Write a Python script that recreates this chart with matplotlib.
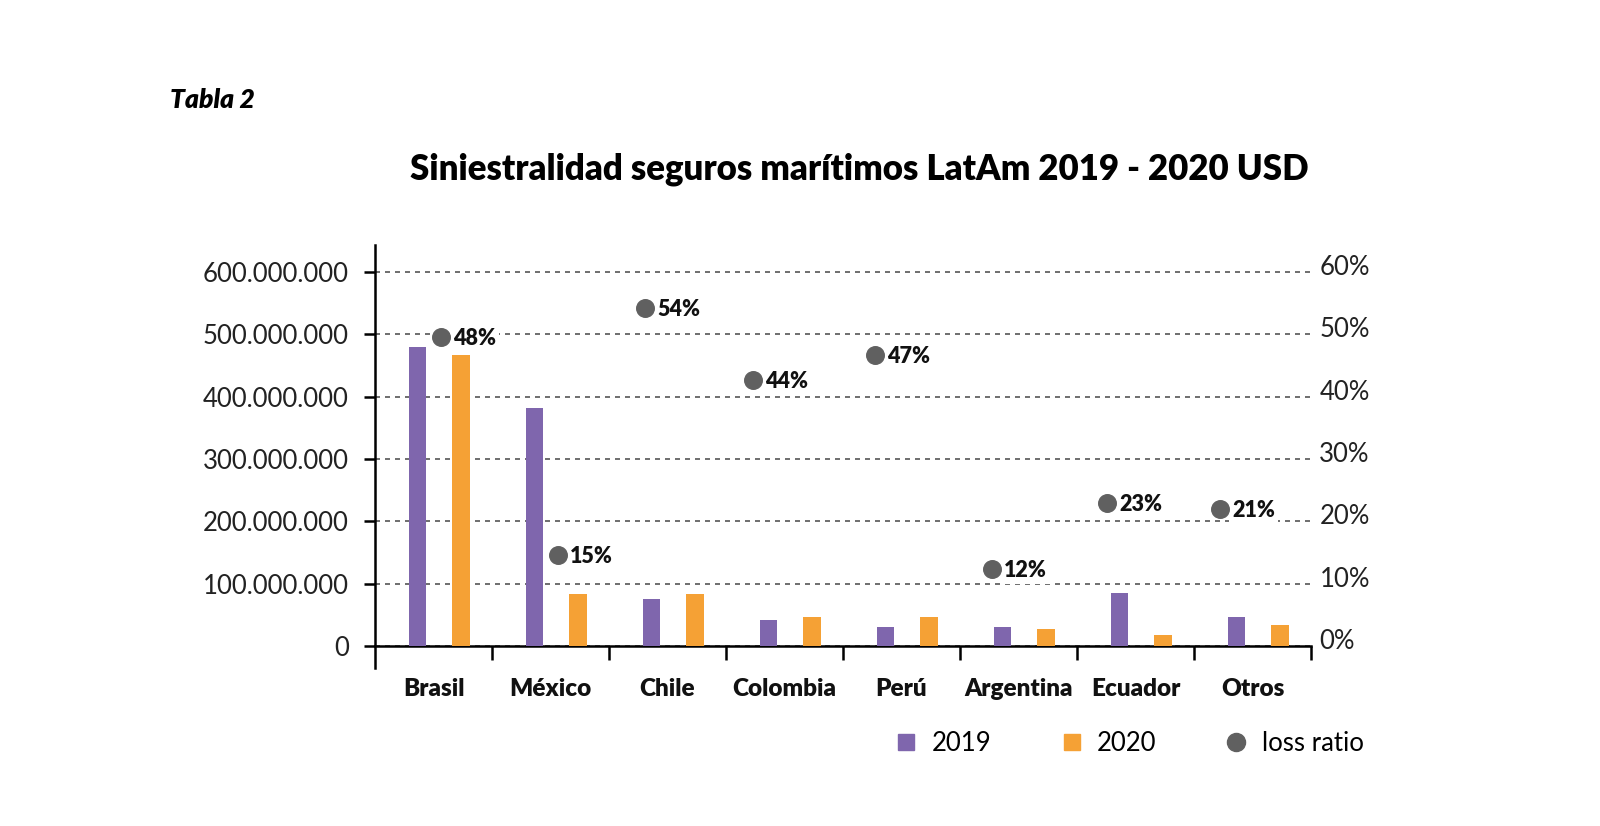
import matplotlib
matplotlib.use('Agg')
import matplotlib.pyplot as plt
import matplotlib.transforms as mtransforms
from matplotlib.lines import Line2D
import numpy as np

paises = ['Brasil', 'México', 'Chile', 'Colombia', 'Perú', 'Argentina', 'Ecuador', 'Otros']
v2019 = [480e6, 381e6, 75e6, 42e6, 30e6, 30e6, 85e6, 46e6]
v2020 = [467e6, 83e6, 83e6, 46e6, 46e6, 27e6, 18e6, 33e6]
# altura de los puntos tal como se leen en el grafico, y su etiqueta
loss_ratio = [49.5, 14.6, 54.2, 42.6, 46.7, 12.4, 22.9, 22.0]
loss_label = ['48%', '15%', '54%', '44%', '47%', '12%', '23%', '21%']

y_ticks = [0, 100e6, 200e6, 300e6, 400e6, 500e6, 600e6]
y_labels = ['0', '100.000.000', '200.000.000', '300.000.000', '400.000.000',
            '500.000.000', '600.000.000']
pct_ticks = [0, 10, 20, 30, 40, 50, 60]
pct_labels = ['0%', '10%', '20%', '30%', '40%', '50%', '60%']

# desplazamiento horizontal de los puntos dentro de cada categoria
dot_shift = [0.06, 0.06, -0.19, -0.27, -0.23, -0.23, -0.245, -0.28]

morado = '#7f66ad'
naranja = '#f5a135'
gris = '#606060'

fuente = 'Lato'

fig = plt.figure(figsize=(16, 8.26), dpi=100)
ax = fig.add_axes([0.2344, 0.2179, 0.585, 0.4855])

x = np.arange(len(paises))
w = 0.148
ax.bar(x - 0.136, v2019, w, color=morado, zorder=3)
ax.bar(x + 0.236, v2020, w, color=naranja, zorder=3)

ax.set_xlim(-0.5, len(paises) - 0.5)
ax.set_ylim(0, 643e6)
ax.set_yticks(y_ticks)
ax.set_yticklabels(y_labels, fontsize=18.5, fontfamily=fuente, fontweight='normal', color='#222222')
ax.tick_params(axis='y', length=8, width=1.8, pad=11, color='black')
ax.set_xticks(x)
ax.set_xticklabels(paises, fontsize=17.5, fontweight='heavy', fontfamily=fuente, color='#111111')
ax.set_xticks(np.arange(len(paises)) + 0.5, minor=True)
ax.tick_params(axis='x', which='major', length=0, pad=23)
ax.tick_params(axis='x', which='minor', length=10, width=1.8, color='black')

ax.yaxis.grid(True, linestyle=(0, (3, 3)), color='#555555', linewidth=1.2)
ax.set_axisbelow(True)
for s in ['top', 'right']:
    ax.spines[s].set_visible(False)
ax.spines['left'].set_linewidth(1.8)
ax.spines['bottom'].set_linewidth(1.8)
ax.spines['left'].set_bounds(-35e6, 643e6)

ax2 = ax.twinx()
ax2.set_ylim(0, 64.3)
xd = x + np.array(dot_shift)
ax2.scatter(xd, loss_ratio, s=160, color=gris, zorder=5)
for xi, lr, lab in zip(xd, loss_ratio, loss_label):
    ax2.annotate(lab, (xi, lr), xytext=(9, -1), textcoords='offset points',
                 ha='left', va='center', fontsize=15.5, fontweight='heavy', fontfamily=fuente,
                 color='#111111',
                 bbox=dict(boxstyle='square,pad=0.15', fc='white', ec='none'))
ax2.set_yticks(pct_ticks)
ax2.set_yticklabels(pct_labels, fontsize=18.5, fontfamily=fuente, fontweight='normal', color='#222222')
ax2.tick_params(axis='y', length=0, pad=6)
for s in ['top', 'right', 'left', 'bottom']:
    ax2.spines[s].set_visible(False)
offset = mtransforms.ScaledTranslation(0, 7 / 100, fig.dpi_scale_trans)
for lab in ax2.get_yticklabels():
    lab.set_transform(lab.get_transform() + offset)

fig.text(0.106, 0.879, 'Tabla 2', fontsize=19, fontweight='heavy', style='italic',
         fontfamily=fuente, ha='left', va='center')
fig.text(0.537, 0.795, 'Siniestralidad seguros marítimos LatAm 2019 - 2020 USD',
         fontsize=25, fontweight='heavy', fontfamily=fuente, ha='center', va='center')

handles = [Line2D([], [], marker='s', linestyle='none', color=morado, markersize=12),
           Line2D([], [], marker='s', linestyle='none', color=naranja, markersize=12),
           Line2D([], [], marker='o', linestyle='none', color=gris, markersize=13)]
fig.legend(handles, ['2019', '2020', 'loss ratio'], loc='center left',
           bbox_to_anchor=(0.5585, 0.100), ncol=3, frameon=False,
           prop={'family': fuente, 'size': 18.5, 'weight': 'normal'},
           handlelength=1, handletextpad=0.5, columnspacing=2.6,
           borderpad=0, borderaxespad=0)

fig.savefig('out.png', dpi=100, facecolor='white')
